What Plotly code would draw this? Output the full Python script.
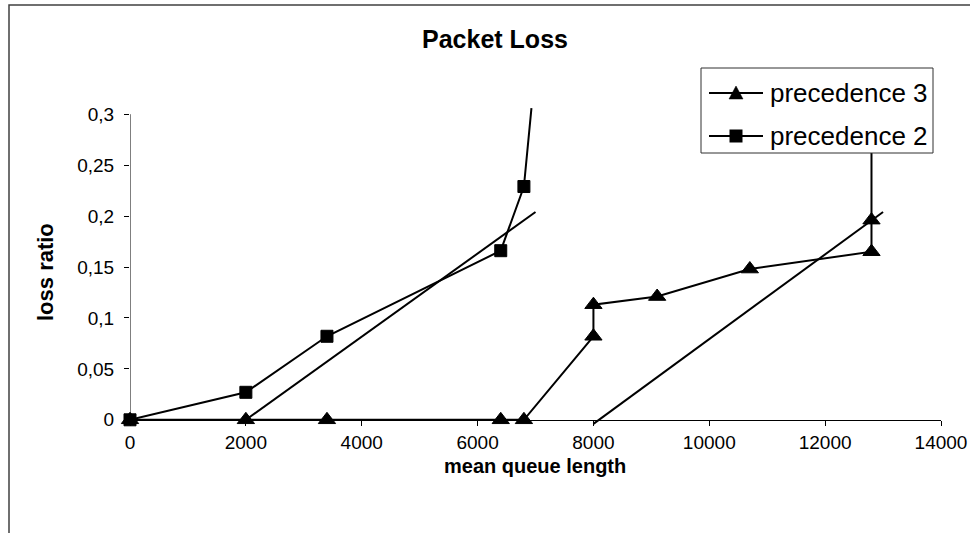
import plotly.graph_objects as go

# ---- data ----
queue_p3 = [0, 2000, 3400, 6400, 6800, 8000, 8000, 9100, 10700, 12800, 12800, 12800]
loss_p3 = [0, 0, 0, 0, 0, 0.082, 0.113, 0.121, 0.148, 0.165, 0.196, 0.33]

queue_p2 = [0, 2000, 3400, 6400, 6800, 6930]
loss_p2 = [0, 0.027, 0.082, 0.166, 0.229, 0.306]

# straight fit lines
fit_a_queue = [2000, 7000]
fit_a_loss = [0, 0.204]
fit_b_queue = [8000, 13000]
fit_b_loss = [-0.004, 0.204]

x_ticks = [0, 2000, 4000, 6000, 8000, 10000, 12000, 14000]
x_ticklabels = ["0", "2000", "4000", "6000", "8000", "10000", "12000", "14000"]
y_ticks = [0, 0.05, 0.1, 0.15, 0.2, 0.25, 0.3]
y_ticklabels = ["0", "0,05", "0,1", "0,15", "0,2", "0,25", "0,3"]

series_names = ["precedence 3", "precedence 2"]

# ---- geometry of the plot area (pixels) ----
W, H = 970, 533
L, R, T, B = 130, 941, 104, 430
Y_RANGE = [-0.01, 0.31]
X_RANGE = [0, 14000]
FONT = "Liberation Sans, Arial, sans-serif"


def px(x):
    return (x - L) / (R - L)


def py(y):
    return (B - y) / (B - T)


fig = go.Figure()

line_style = dict(color="black", width=2)

fig.add_trace(go.Scatter(x=fit_a_queue, y=fit_a_loss, mode="lines",
                         line=line_style, hoverinfo="skip"))
fig.add_trace(go.Scatter(x=fit_b_queue, y=fit_b_loss, mode="lines",
                         line=line_style, hoverinfo="skip"))

p3_sizes = [15] * len(queue_p3)
p3_sizes[-1] = 0
fig.add_trace(go.Scatter(x=queue_p3, y=loss_p3, mode="lines+markers",
                         name=series_names[0], line=line_style,
                         marker=dict(symbol="triangle-up", size=p3_sizes,
                                     color="black", opacity=1,
                                     line=dict(color="black", width=1)),
                         cliponaxis=False))

p2_sizes = [12] * len(queue_p2)
p2_sizes[-1] = 0
fig.add_trace(go.Scatter(x=queue_p2, y=loss_p2, mode="lines+markers",
                         name=series_names[1], line=line_style,
                         marker=dict(symbol="square", size=p2_sizes,
                                     color="black", opacity=1,
                                     line=dict(color="black", width=1)),
                         cliponaxis=False))

shapes = []
# y axis line from 0 to 0.3
shapes.append(dict(type="line", xref="x", yref="y", x0=0, x1=0, y0=0, y1=0.3,
                   line=dict(color="black", width=1), layer="below"))
# outer chart frame
shapes.append(dict(type="rect", xref="paper", yref="paper",
                   x0=px(9), x1=px(990), y0=py(560), y1=py(5),
                   line=dict(color="#404040", width=1.5), layer="above"))

# legend box
leg_x0, leg_x1, leg_y0, leg_y1 = 701, 933, 68, 153
shapes.append(dict(type="rect", xref="paper", yref="paper",
                   x0=px(leg_x0), x1=px(leg_x1), y0=py(leg_y1), y1=py(leg_y0),
                   fillcolor="white", line=dict(color="#303030", width=1),
                   layer="above"))
rows = [93, 136]
for ry in rows:
    shapes.append(dict(type="line", xref="paper", yref="paper",
                       x0=px(709), x1=px(763), y0=py(ry), y1=py(ry),
                       line=dict(color="black", width=2), layer="above"))
# triangle symbol
cx, cy = 736, rows[0]
shapes.append(dict(type="path", xref="paper", yref="paper",
                   path=f"M {px(cx-7)},{py(cy+6)} L {px(cx+7)},{py(cy+6)} L {px(cx)},{py(cy-7)} Z",
                   fillcolor="black", line=dict(color="black", width=0.5),
                   layer="above"))
# square symbol
cy = rows[1]
shapes.append(dict(type="rect", xref="paper", yref="paper",
                   x0=px(cx-6.5), x1=px(cx+6.5), y0=py(cy+6.5), y1=py(cy-6.5),
                   fillcolor="black", line=dict(color="black", width=0),
                   layer="above"))

annotations = []
for name, ry in zip(series_names, rows):
    annotations.append(dict(text=name, xref="paper", yref="paper",
                            x=px(768), y=py(ry), xanchor="left",
                            yanchor="middle", showarrow=False,
                            font=dict(family=FONT, size=26, color="black")))

annotations.append(dict(text="mean queue length", xref="paper", yref="paper",
                        x=px(535), y=py(466), xanchor="center",
                        yanchor="middle", showarrow=False,
                        font=dict(family=FONT, size=20, color="black",
                                  weight="bold")))
annotations.append(dict(text="loss ratio", xref="paper", yref="paper",
                        x=px(45), y=py(272), xanchor="center",
                        yanchor="middle", showarrow=False, textangle=-90,
                        font=dict(family=FONT, size=22, color="black",
                                  weight="bold")))

fig.update_layout(
    width=W, height=H,
    margin=dict(l=L, r=W - R, t=T, b=H - B, pad=0, autoexpand=False),
    paper_bgcolor="white", plot_bgcolor="white",
    showlegend=False,
    font=dict(family=FONT, color="black"),
    title=dict(text="Packet Loss", x=495 / W, y=1 - 39 / H,
               xanchor="center", yanchor="middle",
               font=dict(family=FONT, size=25, color="black", weight="bold")),
    xaxis=dict(range=X_RANGE, tickvals=x_ticks, ticktext=x_ticklabels,
               ticks="outside", ticklen=5, tickcolor="black", tickwidth=1,
               showgrid=False, zeroline=False, showline=True,
               linecolor="black", linewidth=1, automargin=False,
               anchor="free", position=(0 - Y_RANGE[0]) / (Y_RANGE[1] - Y_RANGE[0]),
               tickfont=dict(family=FONT, size=19, color="black")),
    yaxis=dict(range=Y_RANGE, tickvals=y_ticks, ticktext=y_ticklabels,
               ticks="outside", ticklen=5, tickcolor="black", tickwidth=1,
               showgrid=False, zeroline=False, showline=False,
               automargin=False, ticklabelstandoff=6,
               tickfont=dict(family=FONT, size=19, color="black")),
    shapes=shapes,
    annotations=annotations,
)

fig.write_html("out.html")
